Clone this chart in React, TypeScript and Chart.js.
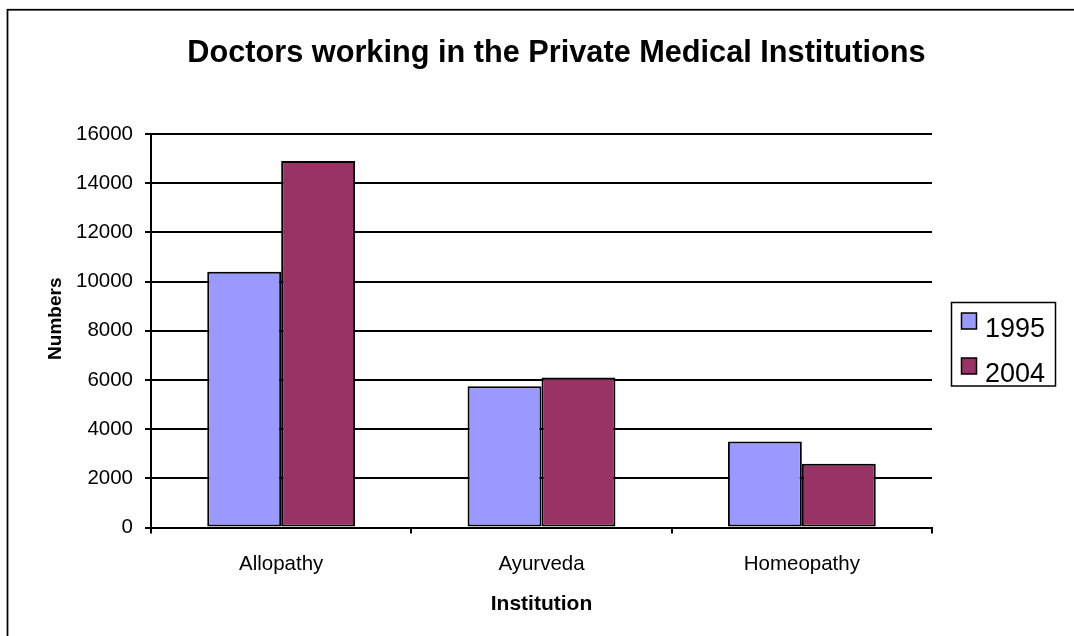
import React, { useEffect, useRef } from "react";
import { Chart, registerables } from "chart.js";

Chart.register(...registerables);

const categories = ["Allopathy", "Ayurveda", "Homeopathy"];
const seriesLabels = ["1995", "2004"];
const values1995 = [10400, 5750, 3500];
const values2004 = [14900, 6100, 2600];
const seriesColors = ["#9999FF", "#993366"];
const yMin = 0;
const yMax = 16000;
const yStep = 2000;
const chartTitle = "Doctors working in the Private Medical Institutions";
const xAxisTitle = "Institution";
const yAxisTitle = "Numbers";

const FONT = "'Liberation Sans', Arial, sans-serif";

const decorPlugin = {
  id: "decor",
  beforeDraw(chart: any) {
    const ctx = chart.ctx;
    ctx.save();
    ctx.fillStyle = "#ffffff";
    ctx.fillRect(0, 0, chart.width, chart.height);
    ctx.strokeStyle = "#000000";
    ctx.lineWidth = 1.75;
    ctx.strokeRect(7.5, 9.75, 2000, 2000);
    ctx.restore();
  },
  afterDraw(chart: any) {
    const ctx = chart.ctx;
    ctx.save();
    // Title
    ctx.fillStyle = "#000000";
    ctx.font = `bold 30.7px ${FONT}`;
    ctx.textAlign = "center";
    ctx.textBaseline = "alphabetic";
    ctx.fillText(chartTitle, 556.5, 62);

    // Y axis title
    ctx.save();
    ctx.translate(60.5, 318.7);
    ctx.rotate(-Math.PI / 2);
    ctx.font = `bold 19px ${FONT}`;
    ctx.textAlign = "center";
    ctx.textBaseline = "alphabetic";
    ctx.fillText(yAxisTitle, 0, 0);
    ctx.restore();

    // Legend
    ctx.lineWidth = 1.5;
    ctx.strokeStyle = "#000000";
    ctx.strokeRect(951.5, 302.5, 104, 83.5);
    const ds = chart.data.datasets;
    ds.forEach((d: any, i: number) => {
      const top = 313 + i * 45;
      ctx.fillStyle = d.backgroundColor;
      ctx.fillRect(961.5, top, 15, 16);
      ctx.lineWidth = 1.5;
      ctx.strokeStyle = "#000000";
      ctx.strokeRect(961.5, top, 15, 16);
      ctx.fillStyle = "#000000";
      ctx.font = `27px ${FONT}`;
      ctx.textAlign = "left";
      ctx.textBaseline = "alphabetic";
      ctx.fillText(d.label, 985, 337 + i * 45);
    });
    ctx.restore();
  },
};

export default function App() {
  const ref = useRef<HTMLCanvasElement | null>(null);

  useEffect(() => {
    if (!ref.current) return;
    const chart = new Chart(ref.current, {
      type: "bar",
      data: {
        labels: categories,
        datasets: [
          {
            label: seriesLabels[0],
            data: values1995,
            backgroundColor: seriesColors[0],
            borderColor: "#000000",
            borderWidth: 2,
            borderSkipped: false,
            categoryPercentage: 0.568,
            barPercentage: 1,
          },
          {
            label: seriesLabels[1],
            data: values2004,
            backgroundColor: seriesColors[1],
            borderColor: "#000000",
            borderWidth: 2,
            borderSkipped: false,
            categoryPercentage: 0.568,
            barPercentage: 1,
          },
        ],
      },
      options: {
        responsive: false,
        animation: false,
        layout: { padding: { left: 8, top: 134, right: 142, bottom: 0 } },
        plugins: {
          legend: { display: false },
          title: { display: false },
          tooltip: { enabled: false },
        },
        scales: {
          x: {
            offset: true,
            grid: {
              offset: true,
              drawOnChartArea: false,
              drawTicks: true,
              tickLength: 6,
              color: "#000000",
              lineWidth: 2,
            },
            border: { display: true, color: "#000000", width: 2 },
            ticks: {
              color: "#000000",
              font: { family: FONT, size: 20.5 },
              padding: 18,
            },
            title: {
              display: true,
              text: xAxisTitle,
              color: "#000000",
              font: { family: FONT, size: 21, weight: "bold" },
              padding: { top: 0, bottom: 19.4 },
            },
            afterFit(scale: any) {
              scale.height = 108.4;
            },
          },
          y: {
            min: yMin,
            max: yMax,
            ticks: {
              stepSize: yStep,
              color: "#000000",
              font: { family: FONT, size: 20.5 },
              padding: 12,
              callback: (v: any) => String(v),
            },
            grid: {
              color: "#000000",
              lineWidth: 2,
              tickLength: 6,
              drawTicks: true,
            },
            border: { display: true, color: "#000000", width: 2 },
            afterFit(scale: any) {
              scale.width = 143;
            },
          },
        },
      },
      plugins: [decorPlugin],
    });
    return () => chart.destroy();
  }, []);

  return (
    <div style={{ position: "absolute", left: 0, top: 0, width: 1074, height: 636 }}>
      <canvas ref={ref} width={1074} height={636} style={{ display: "block" }} />
    </div>
  );
}
